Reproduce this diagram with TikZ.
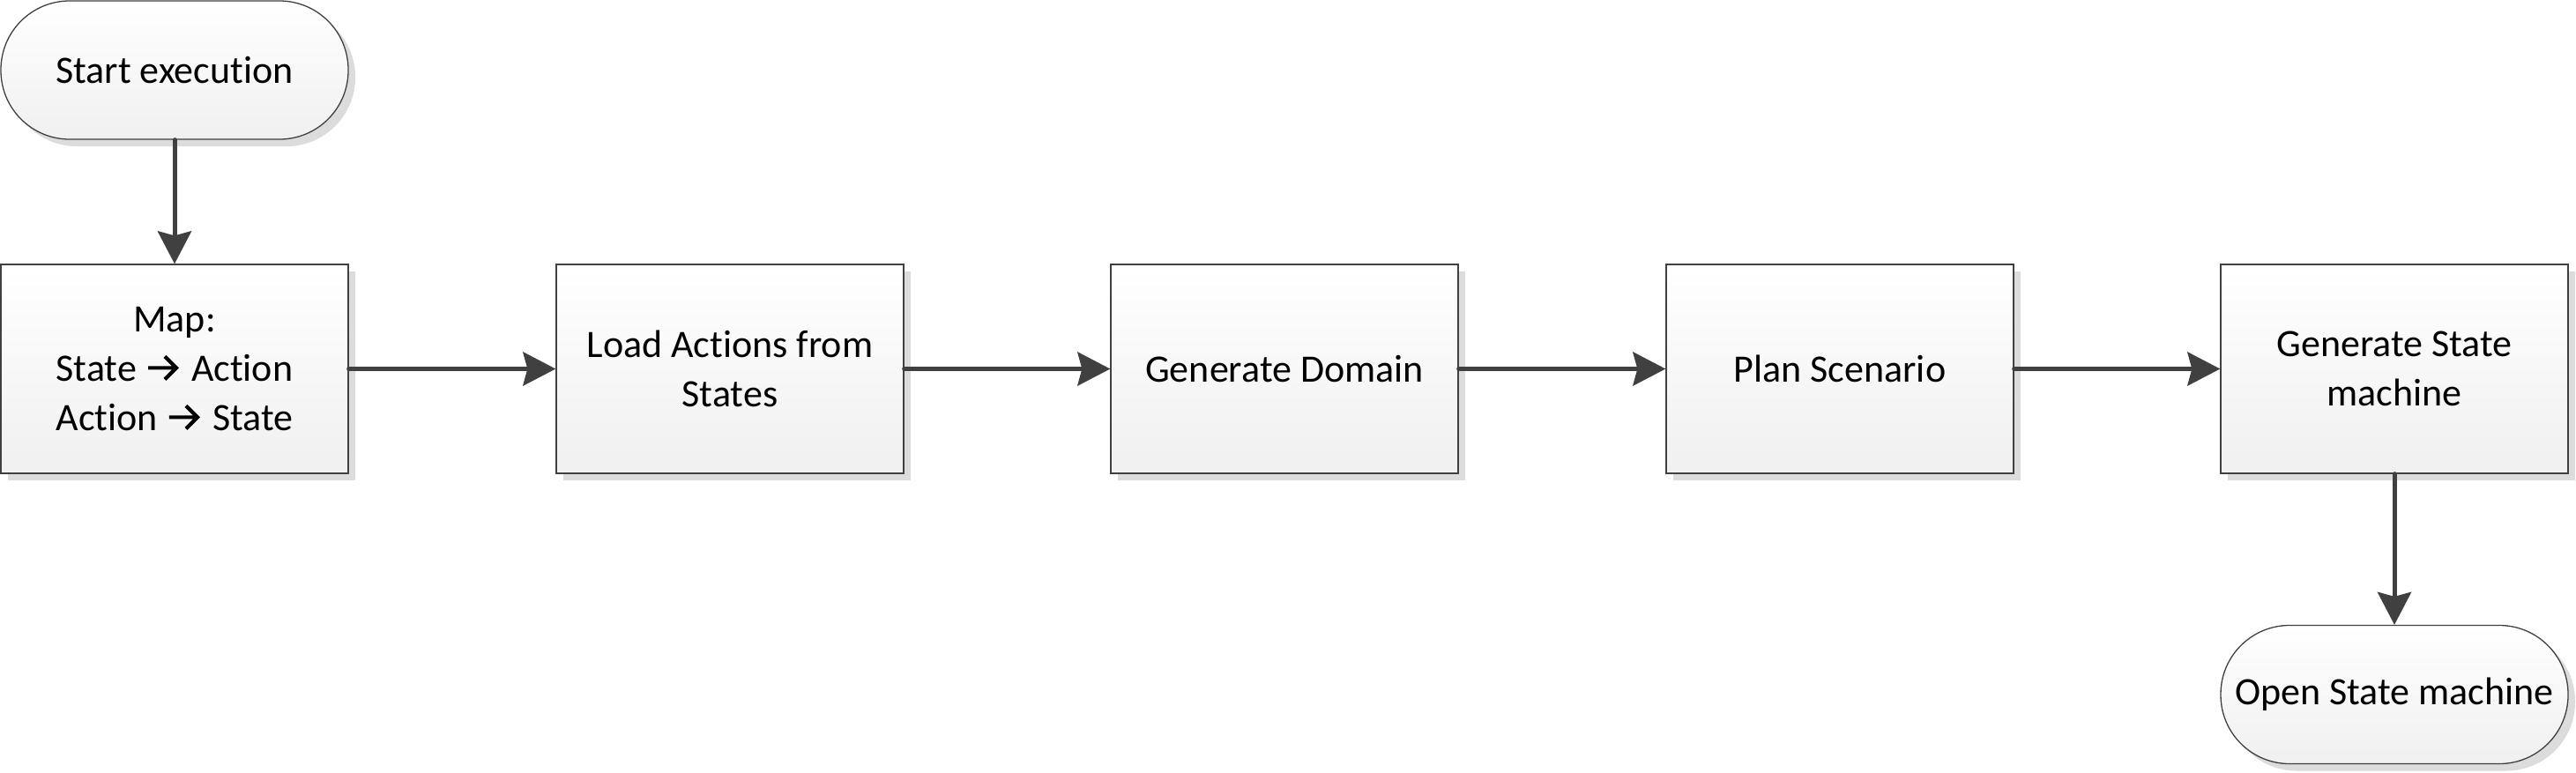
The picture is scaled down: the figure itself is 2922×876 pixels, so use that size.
\documentclass[tikz,border=0pt]{standalone}
\usepackage{fontspec}
\setmainfont{Carlito}[Ligatures={NoCommon}]
\usetikzlibrary{shadows,arrows.meta}
\definecolor{edgegray}{RGB}{64,64,64}
\definecolor{shadowgray}{RGB}{220,220,220}
\definecolor{panelgray}{RGB}{240,240,240}
\newsavebox{\arrglyphbox}
\newcommand{\rarr}{\hspace{1pt}\usebox{\arrglyphbox}\hspace{5pt}}
\tikzset{
 basebox/.style={draw=edgegray, line width=1.3pt, top color=white, bottom color=panelgray,
   align=center, font=\fontsize{44}{56}\selectfont, inner sep=0pt,
   drop shadow={shadow xshift=8pt, shadow yshift=-8pt, fill=shadowgray, opacity=1, draw=none}},
 procbox/.style={basebox, minimum width=394pt, minimum height=237pt},
 termbox/.style={basebox, rounded corners=78pt, minimum width=394pt, minimum height=157pt},
 conn/.style={draw=edgegray, line width=5pt, line cap=round,
   -{Stealth[length=37pt,width=38pt,inset=5pt]}}
}
\begin{document}
\sbox{\arrglyphbox}{\begin{pgfpicture}%
\pgfsetlinewidth{4.2pt}\pgfsetmiterjoin\pgfsetbuttcap
\pgfpathmoveto{\pgfpoint{0pt}{13pt}}\pgfpathlineto{\pgfpoint{32pt}{13pt}}%
\pgfpathmoveto{\pgfpoint{19pt}{0pt}}\pgfpathlineto{\pgfpoint{32pt}{13pt}}\pgfpathlineto{\pgfpoint{19pt}{26pt}}%
\pgfusepath{stroke}%
\end{pgfpicture}}%
\begin{tikzpicture}[x=1pt,y=1pt]
\useasboundingbox (0,0) rectangle (2922,-876);
\node[termbox] (start) at (198,-79.5) {Start execution};
\node[procbox] (map) at (198,-418.5) {Map:\\State \rarr{} Action\\Action \rarr{} State};
\node[procbox] (load) at (828,-418.5) {Load Actions from\\States};
\node[procbox] (gen) at (1457,-418.5) {Generate Domain};
\node[procbox] (plan) at (2087,-418.5) {Plan Scenario};
\node[procbox] (gsm) at (2716,-418.5) {Generate State\\machine};
\node[termbox] (open) at (2716,-788) {Open State machine};
\draw[conn] (start) -- (map);
\draw[conn] (map) -- (load);
\draw[conn] (load) -- (gen);
\draw[conn] (gen) -- (plan);
\draw[conn] (plan) -- (gsm);
\draw[conn] (gsm) -- (open);
\end{tikzpicture}
\end{document}
